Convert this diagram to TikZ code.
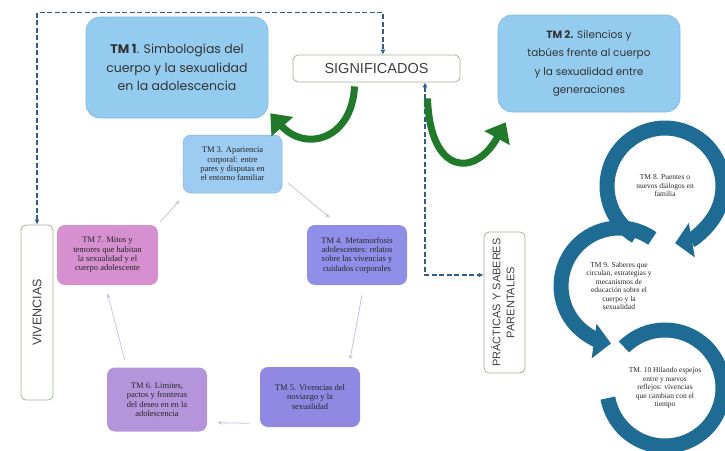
\documentclass[tikz,border=0pt]{standalone}
\usepackage{fontspec}
\setmainfont{Liberation Serif}
\newfontfamily\gothicfont{Poppins}
\newfontfamily\arialfont{Liberation Sans}
\usetikzlibrary{arrows.meta,calc}
\definecolor{tmblue}{RGB}{148,204,240}
\definecolor{tmblueline}{RGB}{125,183,228}
\definecolor{tmthree}{RGB}{157,203,242}
\definecolor{tmfour}{RGB}{143,143,234}
\definecolor{tmfive}{RGB}{145,136,228}
\definecolor{tmsix}{RGB}{180,149,219}
\definecolor{tmseven}{RGB}{214,143,207}
\definecolor{ringblue}{RGB}{30,108,148}
\definecolor{leafgreen}{RGB}{31,122,42}
\definecolor{dashblue}{RGB}{52,92,138}
\definecolor{framegreen}{RGB}{160,182,155}
\definecolor{cyclegrey}{RGB}{196,198,218}
\tikzset{
  >={Stealth[length=2.2mm]},
  bigtm/.style={draw=tmblueline,fill=tmblue,rounded corners=14pt,line width=0.6pt,
    align=center,inner sep=4pt,text=black!80,
    font={\gothicfont\fontsize{10.5}{18.5}\selectfont}},
  smalltm/.style={rounded corners=8pt,align=center,inner sep=2pt,text=black!85,
    minimum width=100pt,minimum height=60pt,line width=0.5pt,
    font={\fontsize{8.5}{9.3}\selectfont}},
  themebox/.style={draw=framegreen,fill=white,line width=0.8pt,rounded corners=5pt,
    inner sep=2pt,text=black!75,font={\arialfont\fontsize{12.5}{14}\selectfont}},
  ringtext/.style={align=center,inner sep=1pt,text=black!85,
    font={\fontsize{7.5}{8.5}\selectfont}},
  dashlink/.style={dashblue,line width=1.6pt,dash pattern=on 5pt off 2.5pt,
    {Latex[length=5pt,width=5pt]}-{Latex[length=5pt,width=5pt]}},
  leaf/.style={leafgreen,line width=7pt,-{Triangle[length=18pt,width=28pt]}},
  ring/.style={ringblue,line width=15pt},
  ringhead/.style={ring,-{Triangle[length=17pt,width=34pt]}},
  cyc/.style={cyclegrey,line width=0.8pt,-{Stealth[length=5pt,width=4pt]}},
}
\begin{document}
\begin{tikzpicture}[x=1pt,y=-1pt]
  \useasboundingbox (0,0) rectangle (725,450);
  \node[bigtm,minimum width=182pt,minimum height=101pt,
    font={\gothicfont\fontsize{12.5}{18.5}\selectfont}] (tm1) at (177,67.5)
    {\textbf{TM 1}. Simbologías del\\cuerpo y la sexualidad\\en la adolescencia};
  \node[bigtm,minimum width=182pt,minimum height=97pt] (tm2) at (589,63.5)
    {\textbf{TM 2.} Silencios y\\tabúes frente al cuerpo\\y la sexualidad entre\\generaciones};
  \node[themebox,minimum width=167pt,minimum height=27pt,
    font={\arialfont\fontsize{14.5}{16}\selectfont}] (sig) at (376.5,68.5) {SIGNIFICADOS};
  \node[themebox,minimum width=32pt,minimum height=175pt] (viv) at (37,312.5)
    {\rotatebox{90}{VIVENCIAS}};
  \node[themebox,minimum width=41pt,minimum height=141pt,
    font={\arialfont\fontsize{11}{14}\selectfont}] (prac) at (504.5,302.5)
    {\rotatebox{90}{\begin{tabular}{@{}c@{}}PRÁCTICAS Y SABERES\\PARENTALES\end{tabular}}};
  \node[smalltm,fill=tmthree,draw=tmblueline,minimum width=99pt,minimum height=58pt] (tm3) at (232.5,164)
    {TM 3. Apariencia\\corporal: entre\\pares y disputas en\\el entorno familiar};
  \node[smalltm,fill=tmfour] (tm4) at (357,255)
    {TM 4. Metamorfosis\\adolescentes: relatos\\sobre las vivencias y\\cuidados corporales};
  \node[smalltm,fill=tmfive] (tm5) at (310,397)
    {TM 5. Vivencias del\\noviazgo y la\\sexualidad};
  \node[smalltm,fill=tmsix,minimum height=64pt] (tm6) at (157,399.5)
    {TM 6. Límites,\\pactos y fronteras\\del deseo en en la\\adolescencia};
  \node[smalltm,fill=tmseven,minimum width=101pt] (tm7) at (107.5,255)
    {TM 7. Mitos y\\temores que habitan\\la sexualidad y el\\cuerpo adolescente};
  \node[ringtext] (tm8) at (665,186) {TM 8. Puentes o\\nuevos diálogos en\\familia};
  \node[ringtext] (tm9) at (619,286)
    {TM 9. Saberes que\\circulan, estrategias y\\mecanismos de\\educación sobre el\\cuerpo y la\\sexualidad};
  \node[ringtext] (tm10) at (665,388)
    {TM. 10 Hilando espejos\\entre y nuevos\\reflejos: vivencias\\que cambian con el\\tiempo};
  \draw[ringhead] ($(tm8)+(-240:58)$) arc[start angle=-240,end angle=80,radius=58];
  \draw[ringhead] ($(tm9)+(-55:58)$) arc[start angle=-55,end angle=-262,radius=58];
  \draw[ring] ($(tm10)+(-135:58)$) arc[start angle=-135,end angle=170,radius=58];
  \draw[dashlink] (viv.north) -- ++(0,-212) -| ([xshift=6.5pt]sig.north);
  \draw[dashlink] ([xshift=48.5pt]sig.south) |- ([yshift=27.5pt]prac.west);
  \draw[leaf] ([xshift=-22pt,yshift=-4pt]sig.south) .. controls (352,140) and (305,152)
    .. ([xshift=2pt,yshift=5pt]tm1.south east);
  \draw[leaf] ([xshift=51pt,yshift=-16pt]sig.south) .. controls (430,175) and (475,178)
    .. ([xshift=8pt,yshift=-10pt]tm2.south west);
  \draw[cyc] ([xshift=6pt,yshift=10pt]tm3.south east) -- ([xshift=-27pt,yshift=7pt]tm4.north);
  \draw[cyc] ([xshift=5pt,yshift=-10pt]tm4.south) -- ([xshift=40pt,yshift=7pt]tm5.north);
  \draw[cyc] ([xshift=-10pt,yshift=4pt]tm5.south west) -- ([xshift=10pt,yshift=9pt]tm6.south east);
  \draw[cyc] ([xshift=18pt,yshift=7pt]tm6.north west) -- ([yshift=-8pt]tm7.south);
  \draw[cyc] ([xshift=2pt,yshift=3pt]tm7.north east) -- ([xshift=-3pt,yshift=-7pt]tm3.south west);
\end{tikzpicture}
\end{document}
